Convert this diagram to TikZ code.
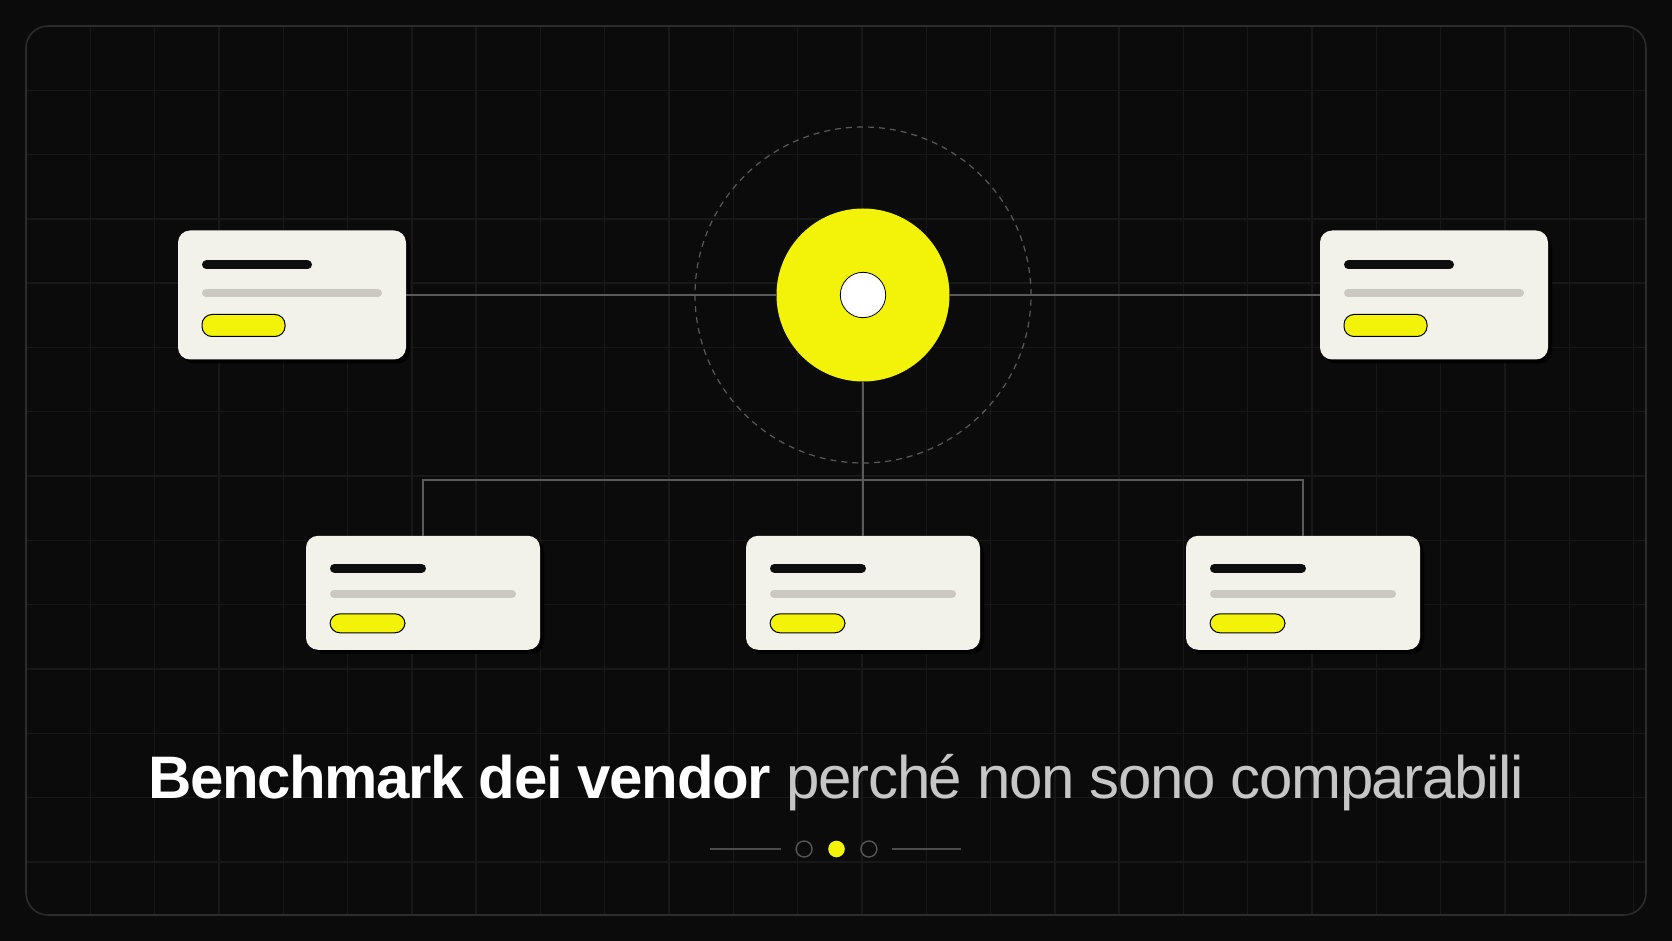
\documentclass[tikz,border=0pt]{standalone}
\usepackage{fontspec}
\setmainfont{Liberation Sans}
\usepackage{tikz}
\usetikzlibrary{positioning,calc,shadows}

\definecolor{bgdark}{HTML}{0B0B0B}
\definecolor{gridgray}{HTML}{181818}
\definecolor{framegray}{HTML}{2C2C2C}
\definecolor{linkgray}{HTML}{5A5A5A}
\definecolor{cardwhite}{HTML}{F2F1EA}
\definecolor{barblack}{HTML}{0E0E0E}
\definecolor{bargray}{HTML}{CAC8C0}
\definecolor{hubyellow}{HTML}{F3F30A}
\definecolor{titlegray}{HTML}{C6C6C6}

\begin{document}
\begin{tikzpicture}[x=0.5pt,y=-0.5pt]
            \tikzstyle{gridline} = [draw=gridgray, line width=0.7pt]
            \tikzstyle{card} = [fill=cardwhite, rounded corners=6pt, inner sep=0pt, outer sep=0pt,
              drop shadow={fill=black, opacity=0.9, shadow xshift=2pt, shadow yshift=-2pt}]
            \tikzstyle{topcard} = [card, minimum width=114pt, minimum height=64.5pt]
            \tikzstyle{lowcard} = [card, minimum width=117pt, minimum height=57pt]
            \tikzstyle{link} = [draw=linkgray, line width=0.75pt]
            \tikzstyle{blackbar} = [draw=barblack, line width=4.5pt, line cap=round]
            \tikzstyle{graybar} = [draw=bargray, line width=4pt, line cap=round]
            \tikzstyle{pill} = [fill=hubyellow, draw=black, line width=0.5pt, rounded corners=5pt]
            \tikzstyle{dotoff} = [circle, draw=framegray!80!white, line width=0.7pt, minimum size=8pt, inner sep=0pt]
          % background and frame
          \fill[bgdark] (0,0) rectangle (1672,941);
          \useasboundingbox (0,0) rectangle (1672,941);
          \begin{scope}
            \clip[rounded corners=11pt] (26,26) rectangle (1646,915);
            \foreach \i in {1,...,25}
              \draw[gridline] (26+\i*64.3,26) -- (26+\i*64.3,915);
            \foreach \j in {1,...,13}
              \draw[gridline] (26,26+\j*64.3) -- (1646,26+\j*64.3);
          \end{scope}
          \draw[framegray, line width=0.8pt, rounded corners=11pt] (26,26) rectangle (1646,915);

          % hub and cards
          \node[circle, draw=linkgray, dashed, dash pattern=on 3pt off 2.5pt, line width=0.6pt,
            minimum size=168pt] (ring) at (863,295) {};
          \node[circle, fill=hubyellow, minimum size=86.5pt, inner sep=0pt, outer sep=0pt] (hub) at (863,295) {};
          \node[circle, fill=white, draw=black, line width=0.4pt, minimum size=22.7pt, inner sep=0pt] (eye) at (hub) {};
          \node[topcard, left=185.25pt of hub] (tl) {};
          \node[topcard, right=185.25pt of hub] (tr) {};
          \node[lowcard, below=77.15pt of hub] (bm) {};
          \node[lowcard, left=103pt of bm] (bl) {};
          \node[lowcard, right=103pt of bm] (br) {};

          \foreach \c in {tl,tr} {
            \draw[blackbar] ($(\c.north west)+(28.5,34.5)$) -- ++(101,0);
            \draw[graybar] ($(\c.north west)+(28,62.5)$) -- ++(172,0);
            \draw[pill] ($(\c.north west)+(24,84)$) rectangle ++(83,22);
          }
          \foreach \c in {bl,bm,br} {
            \draw[blackbar] ($(\c.north west)+(28.5,32.5)$) -- ++(87,0);
            \draw[graybar] ($(\c.north west)+(28,58)$) -- ++(178,0);
            \draw[pill] ($(\c.north west)+(24,78)$) rectangle ++(75,19);
          }

          % connectors
          \draw[link] (tl.east) -- (hub.west);
          \draw[link] (hub.east) -- (tr.west);
          \draw[link] (hub.south) -- (bm.north);
          \draw[link] (bl.north) -- ++(0,-56) -| (br.north);

          % title
          \node[anchor=base, inner sep=0pt] (title) at (836,798)
            {\fontsize{30pt}{36pt}\selectfont\addfontfeatures{LetterSpace=-2.4}\textcolor{white}{\bfseries Benchmark dei vendor} \textcolor{titlegray}{perché non sono comparabili}};

          % pager
          \node[circle, fill=hubyellow, minimum size=8.3pt, inner sep=0pt] (dot2) at (836.5,849) {};
          \node[dotoff, left=7.5pt of dot2] (dot1) {};
          \node[dotoff, right=7.5pt of dot2] (dot3) {};
          \draw[framegray!85!white, line width=0.6pt] ([xshift=-7pt]dot1.west) -- ++(-71,0);
          \draw[framegray!85!white, line width=0.6pt] ([xshift=7pt]dot3.east) -- ++(69,0);
        \end{tikzpicture}
\end{document}
